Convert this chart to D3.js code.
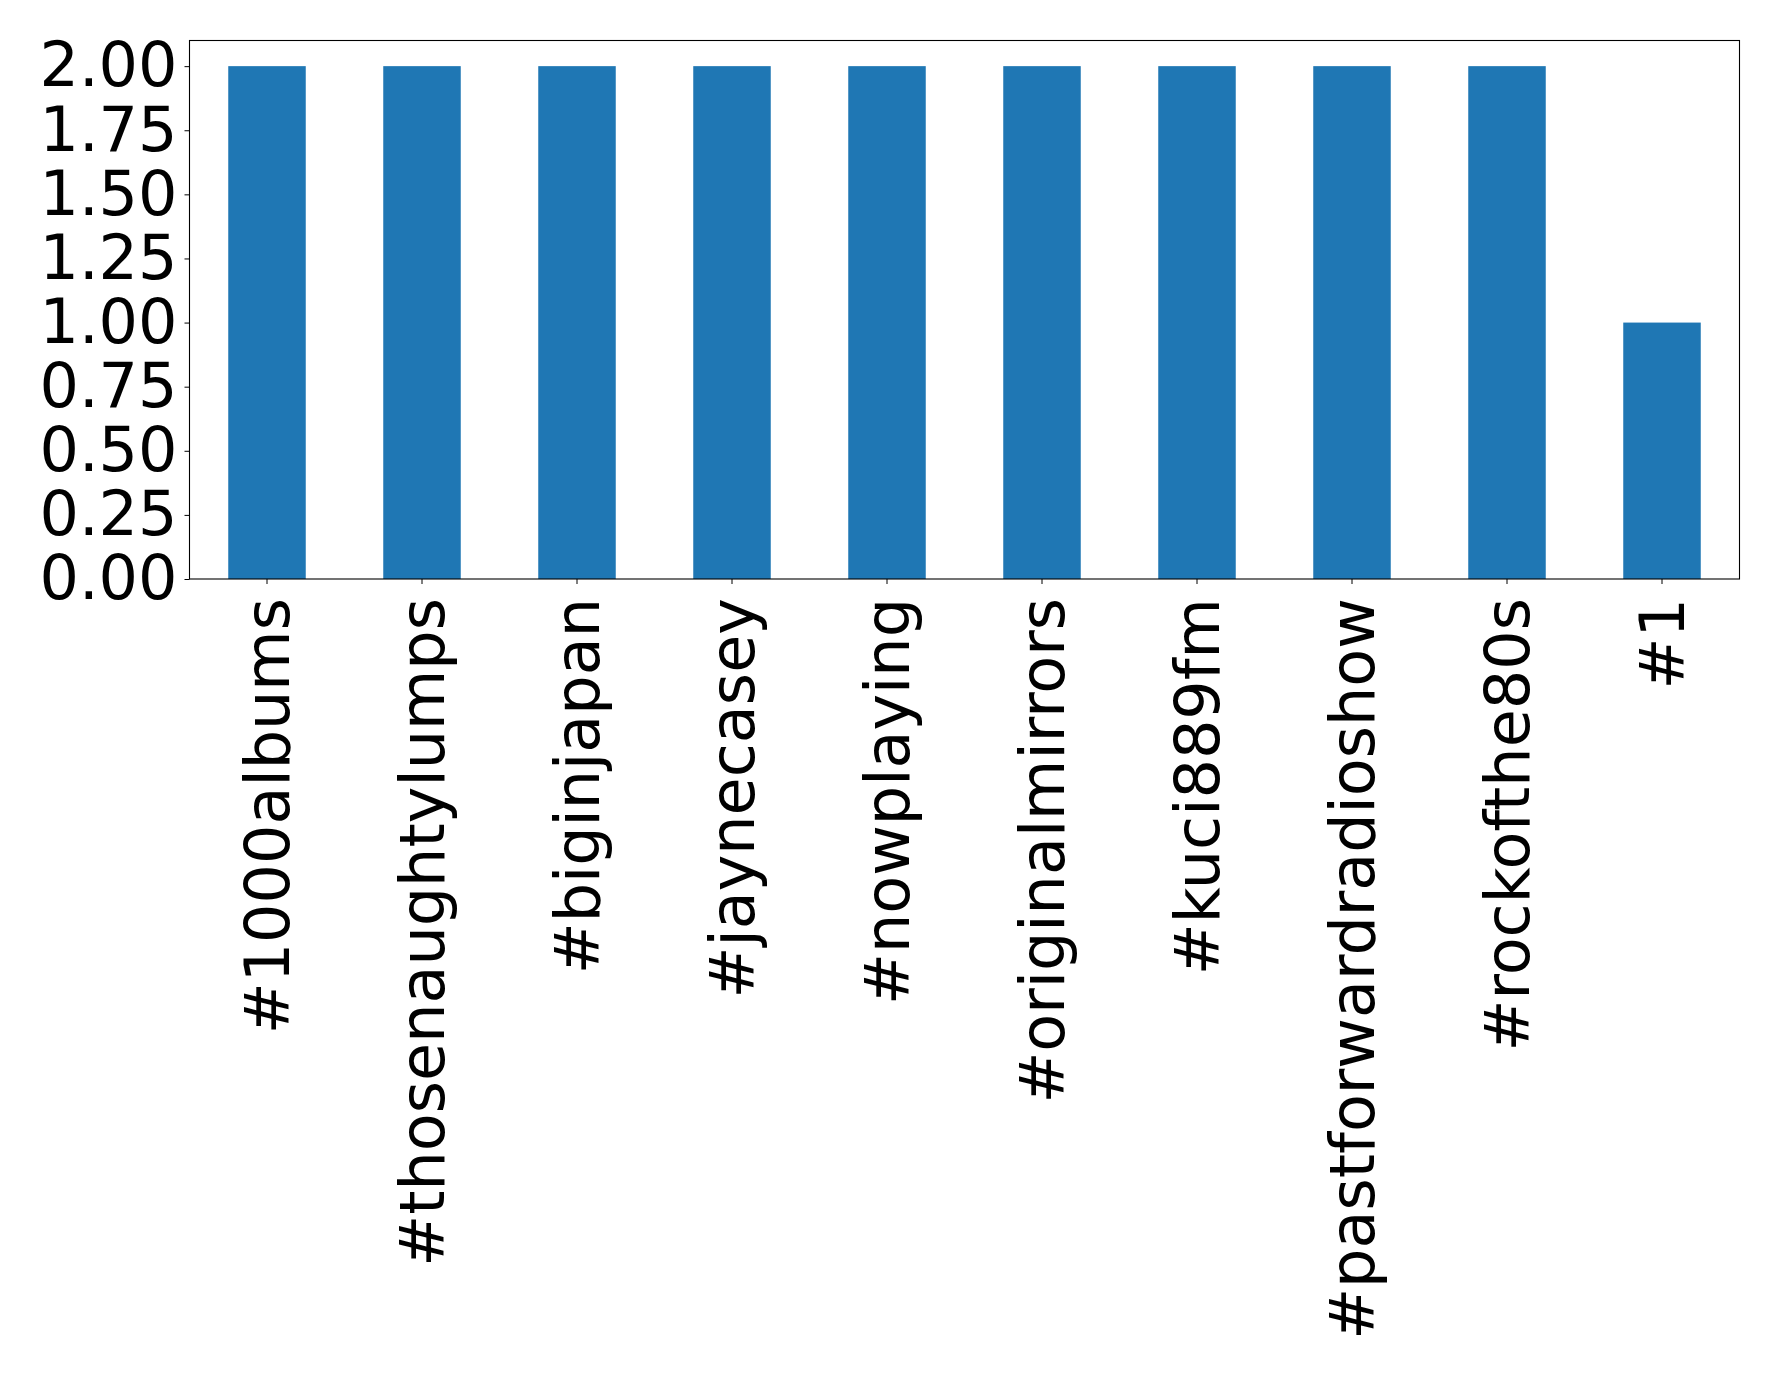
<!DOCTYPE html>
<html><head><meta charset="utf-8">
<script src="https://cdn.jsdelivr.net/npm/d3@7"></script>
<style>body{margin:0;background:#fff}svg{display:block}</style>
</head><body>
<script>
const categories = ["#1000albums","#thosenaughtylumps","#biginjapan","#jaynecasey","#nowplaying","#originalmirrors","#kuci889fm","#pastforwardradioshow","#rockofthe80s","#1"];
const values = [2,2,2,2,2,2,2,2,2,1];
const yTicks = [0,0.25,0.5,0.75,1.0,1.25,1.5,1.75,2.0];

const W=1778,H=1376;
const mLeft=189.5,mRight=1739.5,mTop=40.5,mBottom=579;
const svg=d3.select("body").append("svg").attr("width",W).attr("height",H);
const x=d3.scaleBand().domain(categories).range([mLeft,mRight]).paddingInner(0.5).paddingOuter(0.25);
const y=d3.scaleLinear().domain([0,2.1]).range([mBottom,mTop]);

svg.append("g").selectAll("rect").data(values).join("rect")
  .attr("x",(d,i)=>x(categories[i])).attr("width",x.bandwidth())
  .attr("y",d=>y(d)).attr("height",d=>y(0)-y(d)).attr("fill","#1f77b4");

const font="DejaVu Sans";
const ya=svg.append("g").attr("transform",`translate(${mLeft},0)`)
  .call(d3.axisLeft(y).tickValues(yTicks).tickFormat(d3.format(".2f")).tickSize(5).tickPadding(7));
ya.select(".domain").remove();
ya.selectAll("text").attr("font-family",font).attr("font-size",62).attr("fill","#000");
ya.selectAll("line").attr("stroke","#000");

const xa=svg.append("g").attr("transform",`translate(0,${mBottom})`)
  .call(d3.axisBottom(x).tickSize(5).tickPadding(0));
xa.select(".domain").remove();
xa.selectAll("line").attr("stroke","#000");
xa.selectAll("text").attr("font-family",font).attr("font-size",62).attr("fill","#000")
  .attr("text-anchor","end").attr("dy","0.35em").attr("y",0)
  .attr("transform","translate(0,19) rotate(-90)");

svg.append("rect").attr("x",mLeft).attr("y",mTop).attr("width",mRight-mLeft).attr("height",mBottom-mTop)
  .attr("fill","none").attr("stroke","#000").attr("stroke-width",1.1);
</script>
</body></html>
